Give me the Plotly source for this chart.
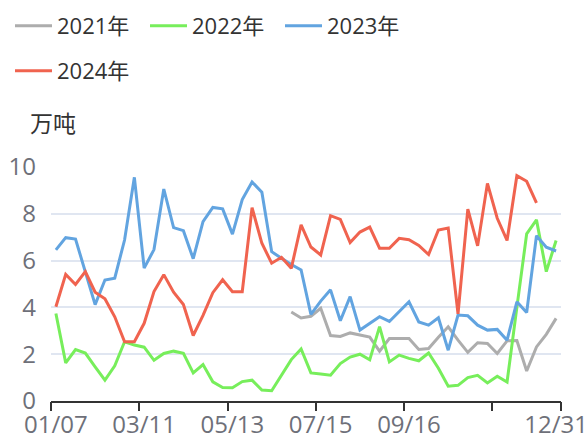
import plotly.graph_objects as go

# Weekly categories (week-ending dates)
weeks = [
    "01/07", "01/14", "01/21", "01/28", "02/04", "02/11", "02/18", "02/25",
    "03/04", "03/11", "03/18", "03/25", "04/01", "04/08", "04/15", "04/22",
    "04/29", "05/06", "05/13", "05/20", "05/27", "06/03", "06/10", "06/17",
    "06/24", "07/01", "07/08", "07/15", "07/22", "07/29", "08/05", "08/12",
    "08/19", "08/26", "09/02", "09/09", "09/16", "09/23", "09/30", "10/07",
    "10/14", "10/21", "10/28", "11/04", "11/11", "11/18", "11/25", "12/02",
    "12/09", "12/16", "12/23", "12/31",
]

# Volumes, 万吨
y2021 = [None] * 24 + [
    3.80, 3.55, 3.62, 3.96, 2.80, 2.76, 2.91, 2.81, 2.73, 2.13, 2.67, 2.67,
    2.67, 2.20, 2.24, 2.72, 3.17, 2.60, 2.08, 2.49, 2.46, 2.03, 2.57, 2.58,
    1.28, 2.31, 2.85, 3.53,
]
y2022 = [
    3.74, 1.63, 2.20, 2.05, 1.46, 0.89, 1.50, 2.53, 2.39, 2.30, 1.74, 2.03,
    2.13, 2.04, 1.20, 1.56, 0.82, 0.58, 0.57, 0.83, 0.89, 0.47, 0.44, 1.13,
    1.77, 2.22, 1.20, 1.15, 1.10, 1.60, 1.88, 2.00, 1.76, 3.18, 1.67, 1.96,
    1.82, 1.72, 2.05, 1.40, 0.63, 0.67, 1.00, 1.10, 0.77, 1.06, 0.81, 4.00,
    7.14, 7.74, 5.53, 6.86,
]
y2023 = [
    6.46, 6.98, 6.92, 5.55, 4.12, 5.17, 5.25, 6.88, 9.56, 5.68, 6.47, 9.06,
    7.41, 7.28, 6.08, 7.67, 8.27, 8.21, 7.13, 8.61, 9.36, 8.92, 6.38, 6.10,
    5.83, 5.60, 3.70, 4.27, 4.75, 3.43, 4.46, 3.03, 3.33, 3.60, 3.40, 3.81,
    4.24, 3.38, 3.24, 3.56, 2.17, 3.67, 3.64, 3.24, 3.03, 3.06, 2.60, 4.24,
    3.78, 7.06, 6.57, 6.41,
]
y2024 = [
    4.03, 5.41, 4.98, 5.53, 4.65, 4.37, 3.60, 2.53, 2.53, 3.32, 4.68, 5.40,
    4.65, 4.12, 2.80, 3.66, 4.63, 5.18, 4.67, 4.67, 8.26, 6.74, 5.89, 6.14,
    5.67, 7.53, 6.58, 6.24, 7.92, 7.76, 6.77, 7.22, 7.43, 6.53, 6.53, 6.95,
    6.89, 6.65, 6.26, 7.31, 7.39, 3.72, 8.20, 6.63, 9.30, 7.81, 6.86, 9.63,
    9.39, 8.47, None, None,
]

series_names = ["2021年", "2022年", "2023年", "2024年"]
series_values = [y2021, y2022, y2023, y2024]
series_colors = ["#adadad", "#77ee5b", "#62a4e0", "#f0634f"]
series_legend = ["legend", "legend", "legend", "legend2"]

label_idx = [0, 9, 18, 27, 36, 51]          # weeks that carry a label
boundary_ticks = [-0.5, 8.5, 17.5, 26.5, 35.5, 44.5, 51.5]

FONT = "Open Sans, Noto Sans CJK SC, sans-serif"

fig = go.Figure()
for name, vals, color, lg in zip(series_names, series_values, series_colors, series_legend):
    fig.add_trace(go.Scatter(
        x=weeks, y=vals, name=name, mode="lines",
        line=dict(color=color, width=3, shape="linear"),
        connectgaps=False, legend=lg,
    ))

# carrier trace for the tick-only overlay axis
fig.add_trace(go.Scatter(x=[None], y=[None], xaxis="x2", showlegend=False,
                         hoverinfo="skip"))

legend_common = dict(
    orientation="h", xref="container", yref="container",
    xanchor="left", yanchor="top", bgcolor="rgba(0,0,0,0)",
    font=dict(family=FONT, size=22, color="#333333"),
    itemwidth=37, entrywidth=83, entrywidthmode="pixels",
    itemclick=False, itemdoubleclick=False,
)

fig.update_layout(
    width=588, height=439,
    margin=dict(l=51, r=27, t=167, b=38, autoexpand=False),
    paper_bgcolor="white", plot_bgcolor="white",
    font=dict(family=FONT, color="#333333"),
    showlegend=True,
    legend=dict(x=10 / 588, y=1 - 5 / 439, **legend_common),
    legend2=dict(x=10 / 588, y=1 - 50 / 439, **legend_common),
    xaxis=dict(
        type="category", categoryorder="array", categoryarray=weeks,
        range=[-0.5, 51.5], tickmode="array",
        tickvals=[weeks[i] for i in label_idx],
        ticktext=[weeks[i] for i in label_idx],
        ticks="", showgrid=False, zeroline=False,
        showline=True, linecolor="#333333", linewidth=2,
        tickfont=dict(family=FONT, size=24, color="#6e7079"),
        ticklabelstandoff=1,
    ),
    xaxis2=dict(
        overlaying="x", anchor="y", side="bottom",
        range=[-0.5, 51.5], tickmode="array", tickvals=boundary_ticks,
        ticks="outside", ticklen=9, tickwidth=2, tickcolor="#333333",
        showticklabels=False, showgrid=False, zeroline=False, showline=False,
    ),
    yaxis=dict(
        range=[0, 10], tickmode="linear", tick0=0, dtick=2,
        showgrid=True, gridcolor="#e0e6f1", gridwidth=2,
        zeroline=False, showline=False, ticks="",
        tickfont=dict(family=FONT, size=24, color="#6e7079"),
        ticklabelstandoff=14,
    ),
    annotations=[dict(
        text="万吨", xref="paper", yref="paper",
        x=-23 / 510, y=(401 - 122.5) / 234, xanchor="left", yanchor="middle",
        showarrow=False, font=dict(family=FONT, size=23, color="#333333"),
    )],
)

fig.write_html("out.html")
